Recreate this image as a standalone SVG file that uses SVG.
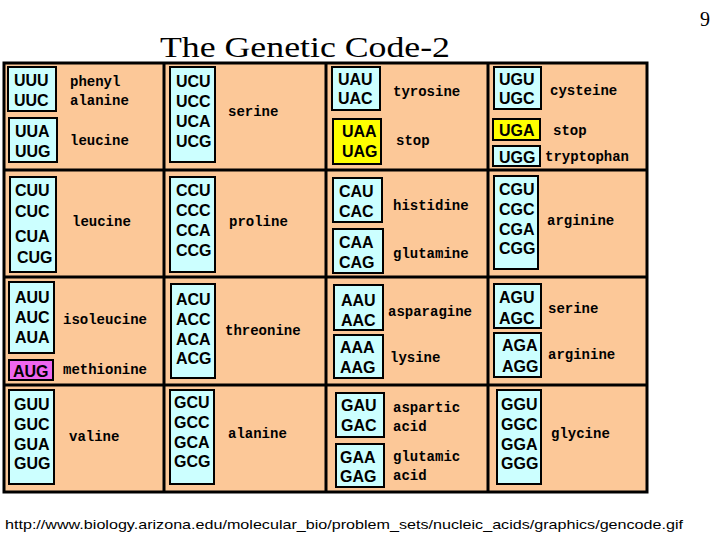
<svg xmlns="http://www.w3.org/2000/svg" width="720" height="540" viewBox="0 0 720 540">
<style>
.c{fill:#ccffff;stroke:#000;stroke-width:2}
.y{fill:#ffff00;stroke:#000;stroke-width:2}
.m{fill:#ee66ee;stroke:#000;stroke-width:2}
text.k{font-family:"Liberation Sans",Arial,sans-serif;font-weight:bold;font-size:16px;fill:#000}
text.l{font-family:"Liberation Mono","DejaVu Sans Mono",monospace;font-weight:bold;font-size:14px;fill:#000}
</style>
<rect width="720" height="540" fill="#fff"/>
<text x="160" y="57" font-family="Liberation Serif,serif" font-size="30" textLength="290" lengthAdjust="spacingAndGlyphs">The Genetic Code-2</text>
<text x="700" y="26" font-family="Liberation Serif,serif" font-size="20">9</text>
<text x="5" y="529" font-family="Liberation Sans,Arial,sans-serif" font-size="13.5" textLength="678" lengthAdjust="spacingAndGlyphs">http://www.biology.arizona.edu/molecular_bio/problem_sets/nucleic_acids/graphics/gencode.gif</text>
<g id="grid">
<rect x="4" y="63" width="643" height="429" fill="#fcc898" stroke="#000" stroke-width="3"/>
<path d="M164 63V492M326 63V492M488 63V492M4 170H647M4 277H647M4 385H647" stroke="#000" stroke-width="3" fill="none"/>
</g>
<g id="uu">
<rect class="c" x="8" y="67" width="48" height="44"/><text class="k" x="14" y="86">UUU</text><text class="k" x="14" y="106">UUC</text>
<text class="l" x="70" y="86">phenyl</text><text class="l" x="70" y="105">alanine</text>
<rect class="c" x="9" y="118" width="48" height="44"/><text class="k" x="15" y="137">UUA</text><text class="k" x="15" y="157">UUG</text>
<text class="l" x="70" y="145">leucine</text>
</g>
<g id="uc"><rect class="c" x="170" y="67" width="45" height="95"/>
<text class="k" x="176" y="87">UCU</text><text class="k" x="176" y="107">UCC</text><text class="k" x="176" y="127">UCA</text><text class="k" x="176" y="147">UCG</text>
<text class="l" x="228" y="116">serine</text></g>
<g id="ua">
<rect class="c" x="332" y="67" width="48" height="43"/><text class="k" x="338" y="85">UAU</text><text class="k" x="338" y="104">UAC</text>
<text class="l" x="393" y="96">tyrosine</text>
<rect class="y" x="333" y="119" width="48" height="45"/><text class="k" x="342" y="137">UAA</text><text class="k" x="342" y="157">UAG</text>
<text class="l" x="396" y="145">stop</text></g>
<g id="ug">
<rect class="c" x="494" y="67" width="47" height="42"/><text class="k" x="499" y="85">UGU</text><text class="k" x="499" y="104">UGC</text>
<text class="l" x="550" y="95">cysteine</text>
<rect class="y" x="493" y="119" width="47" height="21"/><text class="k" x="499" y="136">UGA</text>
<text class="l" x="553" y="135">stop</text>
<rect class="c" x="493" y="146" width="47" height="20"/><text class="k" x="499" y="163">UGG</text>
<text class="l" x="545" y="161">tryptophan</text></g>
<g id="cu"><rect class="c" x="10" y="177" width="46" height="95"/>
<text class="k" x="15" y="196">CUU</text><text class="k" x="15" y="217">CUC</text><text class="k" x="15" y="242">CUA</text><text class="k" x="17" y="263">CUG</text>
<text class="l" x="72" y="226">leucine</text></g>
<g id="cc"><rect class="c" x="170" y="177" width="45" height="95"/>
<text class="k" x="176" y="196">CCU</text><text class="k" x="176" y="216">CCC</text><text class="k" x="176" y="236">CCA</text><text class="k" x="176" y="256">CCG</text>
<text class="l" x="229" y="226">proline</text></g>
<g id="ca">
<rect class="c" x="333" y="178" width="49" height="44"/><text class="k" x="339" y="197">CAU</text><text class="k" x="339" y="217">CAC</text>
<text class="l" x="393" y="210">histidine</text>
<rect class="c" x="333" y="229" width="50" height="44"/><text class="k" x="339" y="248">CAA</text><text class="k" x="339" y="268">CAG</text>
<text class="l" x="393" y="258">glutamine</text></g>
<g id="cg"><rect class="c" x="494" y="176" width="44" height="93"/>
<text class="k" x="499" y="195">CGU</text><text class="k" x="499" y="215">CGC</text><text class="k" x="499" y="235">CGA</text><text class="k" x="499" y="254">CGG</text>
<text class="l" x="547" y="225">arginine</text></g>
<g id="au"><rect class="c" x="9" y="282" width="45" height="71"/>
<text class="k" x="15" y="303">AUU</text><text class="k" x="15" y="323">AUC</text><text class="k" x="15" y="343">AUA</text>
<text class="l" x="63" y="324">isoleucine</text>
<rect class="m" x="9" y="360" width="44" height="20"/><text class="k" x="13" y="377">AUG</text>
<text class="l" x="63" y="374">methionine</text></g>
<g id="ac"><rect class="c" x="171" y="284" width="44" height="94"/>
<text class="k" x="176" y="305">ACU</text><text class="k" x="176" y="325">ACC</text><text class="k" x="176" y="345">ACA</text><text class="k" x="176" y="364">ACG</text>
<text class="l" x="225" y="335">threonine</text></g>
<g id="aa">
<rect class="c" x="334" y="285" width="49" height="45"/><text class="k" x="341" y="306">AAU</text><text class="k" x="341" y="326">AAC</text>
<text class="l" x="388" y="316">asparagine</text>
<rect class="c" x="334" y="335" width="49" height="43"/><text class="k" x="340" y="353">AAA</text><text class="k" x="340" y="373">AAG</text>
<text class="l" x="390" y="362">lysine</text></g>
<g id="ag">
<rect class="c" x="494" y="284" width="47" height="44"/><text class="k" x="499" y="303">AGU</text><text class="k" x="499" y="324">AGC</text>
<text class="l" x="548" y="313">serine</text>
<rect class="c" x="494" y="333" width="47" height="44"/><text class="k" x="502" y="351">AGA</text><text class="k" x="502" y="372">AGG</text>
<text class="l" x="548" y="359">arginine</text></g>
<g id="gu"><rect class="c" x="9" y="390" width="45" height="94"/>
<text class="k" x="14" y="410">GUU</text><text class="k" x="14" y="430">GUC</text><text class="k" x="14" y="450">GUA</text><text class="k" x="14" y="469">GUG</text>
<text class="l" x="69" y="441">valine</text></g>
<g id="gc"><rect class="c" x="170" y="390" width="44" height="94"/>
<text class="k" x="174" y="408">GCU</text><text class="k" x="174" y="428">GCC</text><text class="k" x="174" y="448">GCA</text><text class="k" x="174" y="467">GCG</text>
<text class="l" x="228" y="438">alanine</text></g>
<g id="ga">
<rect class="c" x="336" y="393" width="48" height="44"/><text class="k" x="341" y="411">GAU</text><text class="k" x="341" y="431">GAC</text>
<text class="l" x="393" y="412">aspartic</text><text class="l" x="393" y="431">acid</text>
<rect class="c" x="336" y="444" width="48" height="43"/><text class="k" x="340" y="463">GAA</text><text class="k" x="340" y="482">GAG</text>
<text class="l" x="393" y="461">glutamic</text><text class="l" x="393" y="480">acid</text></g>
<g id="gg"><rect class="c" x="497" y="390" width="44" height="94"/>
<text class="k" x="501" y="410">GGU</text><text class="k" x="501" y="430">GGC</text><text class="k" x="501" y="450">GGA</text><text class="k" x="501" y="469">GGG</text>
<text class="l" x="551" y="438">glycine</text></g>
</svg>
